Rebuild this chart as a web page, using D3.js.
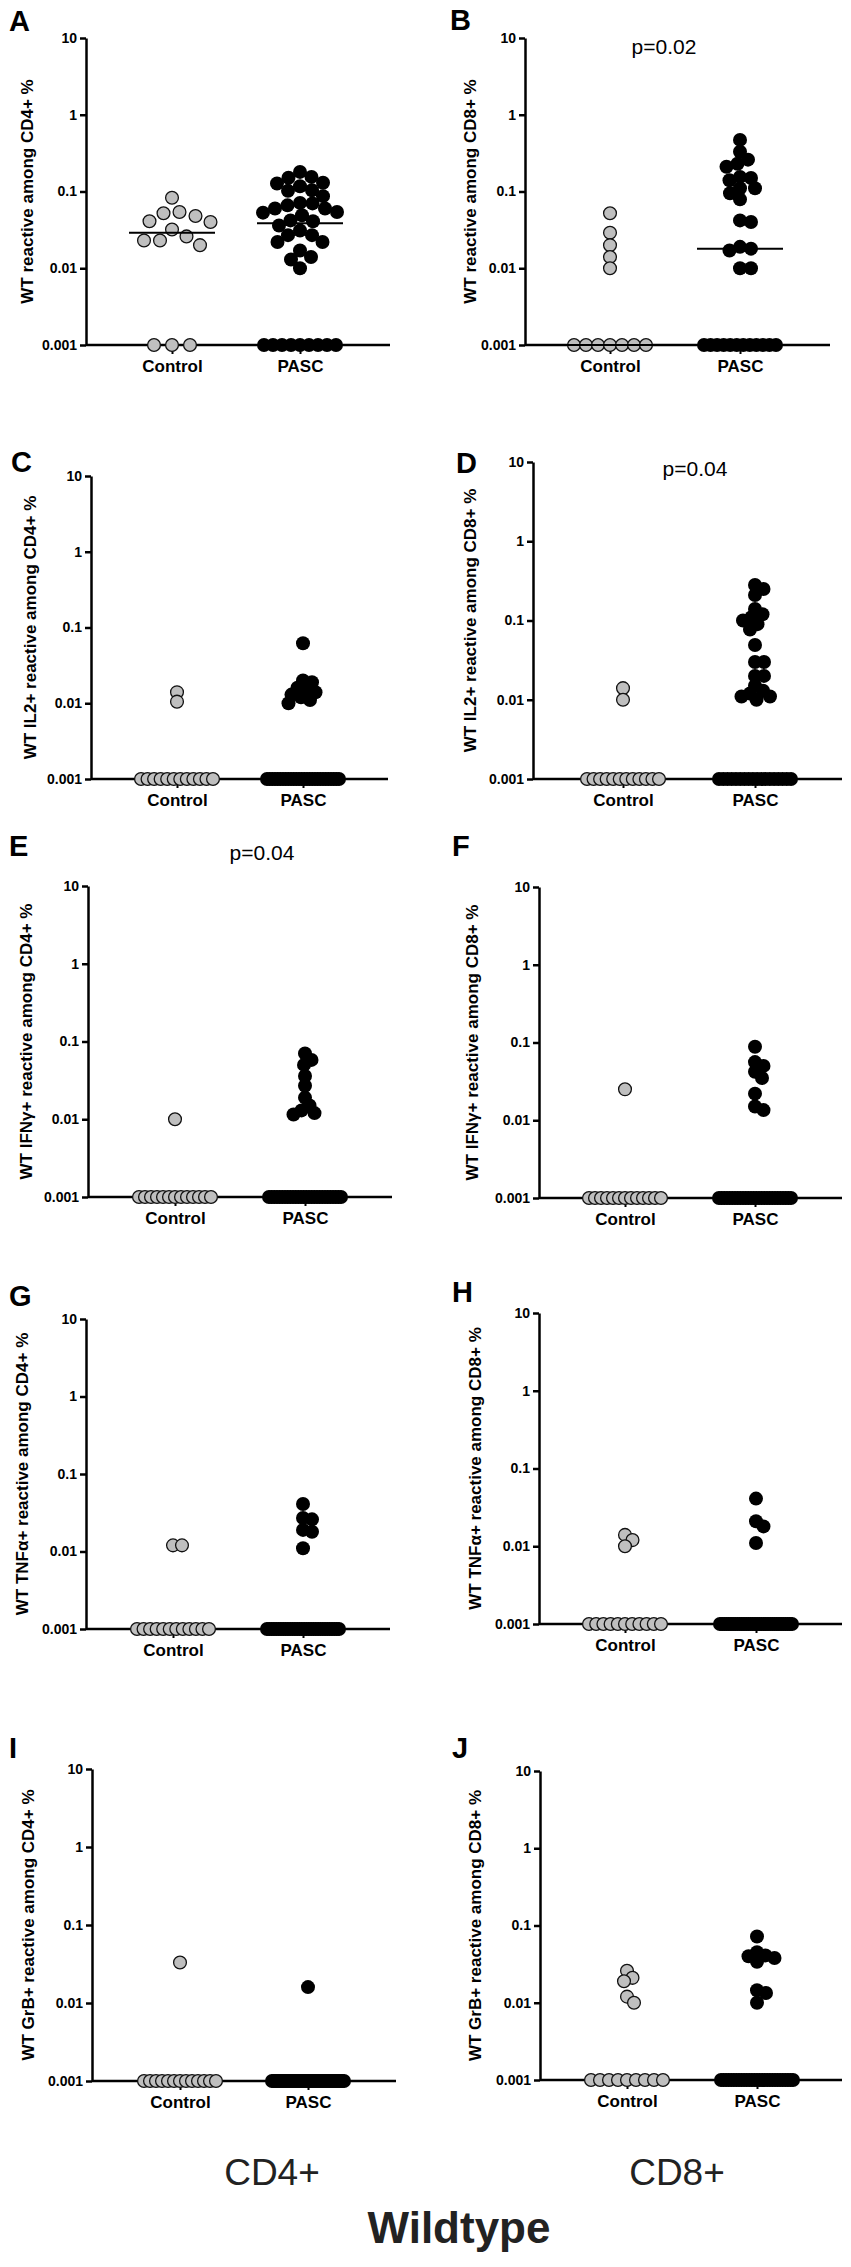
<!DOCTYPE html>
<html>
<head>
<meta charset="utf-8">
<script src="https://cdn.jsdelivr.net/npm/d3@7"></script>
<style>
  body { margin: 0; background: #fff; }
  text { font-family: "Liberation Sans", Arial, Helvetica, sans-serif; }
</style>
</head>
<body>
<svg id="fig" width="851" height="2267"></svg>
<script>
// values, % of CD4+/CD8+ cells; 0.001 = below detection (plotted on the axis)
const groups = ["Control", "PASC"];
const yTicks = [0.001, 0.01, 0.1, 1, 10];

const aControl = [0.083, 0.052, 0.054, 0.048, 0.041, 0.040, 0.032, 0.026, 0.023, 0.023, 0.020,
  0.001, 0.001, 0.001];
const aPasc = [0.180, 0.155, 0.151, 0.130, 0.127, 0.117, 0.104, 0.102, 0.087, 0.071, 0.070, 0.066,
  0.060, 0.060, 0.054, 0.053, 0.049, 0.042, 0.041, 0.036, 0.031, 0.027, 0.027, 0.022, 0.022,
  0.017, 0.014, 0.013, 0.010,
  0.001, 0.001, 0.001, 0.001, 0.001, 0.001, 0.001, 0.001, 0.001];

const bControl = [0.052, 0.029, 0.020, 0.014, 0.010,
  0.001, 0.001, 0.001, 0.001, 0.001, 0.001, 0.001];
const bPasc = [0.47, 0.33, 0.26, 0.23, 0.21, 0.155, 0.15, 0.14, 0.11, 0.11, 0.095, 0.079,
  0.042, 0.040, 0.019, 0.018, 0.017, 0.010, 0.010,
  0.001, 0.001, 0.001, 0.001, 0.001, 0.001, 0.001, 0.001, 0.001, 0.001, 0.001, 0.001];

const cControl = [0.014, 0.0105,
  0.001, 0.001, 0.001, 0.001, 0.001, 0.001, 0.001, 0.001, 0.001, 0.001, 0.001, 0.001];
const cPasc = [0.062, 0.020, 0.019, 0.016, 0.015, 0.014, 0.013, 0.012, 0.011, 0.010,
  0.001, 0.001, 0.001, 0.001, 0.001, 0.001, 0.001, 0.001, 0.001, 0.001, 0.001, 0.001, 0.001, 0.001,
  0.001, 0.001, 0.001, 0.001, 0.001, 0.001, 0.001, 0.001, 0.001, 0.001, 0.001, 0.001, 0.001, 0.001];

const dControl = [0.014, 0.010,
  0.001, 0.001, 0.001, 0.001, 0.001, 0.001, 0.001, 0.001, 0.001, 0.001, 0.001, 0.001];
const dPasc = [0.28, 0.25, 0.21, 0.14, 0.12, 0.11, 0.10, 0.09, 0.077, 0.049, 0.030, 0.030,
  0.020, 0.020, 0.015, 0.013, 0.012, 0.011, 0.011, 0.010,
  0.001, 0.001, 0.001, 0.001, 0.001, 0.001, 0.001, 0.001, 0.001, 0.001, 0.001, 0.001, 0.001, 0.001,
  0.001, 0.001, 0.001, 0.001];

const eControl = [0.010,
  0.001, 0.001, 0.001, 0.001, 0.001, 0.001, 0.001, 0.001, 0.001, 0.001, 0.001, 0.001, 0.001];
const ePasc = [0.070, 0.058, 0.050, 0.036, 0.027, 0.019, 0.015, 0.013, 0.012, 0.0115,
  0.001, 0.001, 0.001, 0.001, 0.001, 0.001, 0.001, 0.001, 0.001, 0.001, 0.001, 0.001, 0.001, 0.001,
  0.001, 0.001, 0.001, 0.001, 0.001, 0.001, 0.001, 0.001, 0.001, 0.001, 0.001, 0.001, 0.001, 0.001];

const fControl = [0.025,
  0.001, 0.001, 0.001, 0.001, 0.001, 0.001, 0.001, 0.001, 0.001, 0.001, 0.001, 0.001, 0.001];
const fPasc = [0.088, 0.056, 0.050, 0.042, 0.035, 0.022, 0.015, 0.0135,
  0.001, 0.001, 0.001, 0.001, 0.001, 0.001, 0.001, 0.001, 0.001, 0.001, 0.001, 0.001, 0.001, 0.001,
  0.001, 0.001, 0.001, 0.001, 0.001, 0.001, 0.001, 0.001, 0.001, 0.001, 0.001, 0.001, 0.001, 0.001];

const gControl = [0.012, 0.012,
  0.001, 0.001, 0.001, 0.001, 0.001, 0.001, 0.001, 0.001, 0.001, 0.001, 0.001, 0.001];
const gPasc = [0.041, 0.027, 0.026, 0.019, 0.018, 0.011,
  0.001, 0.001, 0.001, 0.001, 0.001, 0.001, 0.001, 0.001, 0.001, 0.001, 0.001, 0.001, 0.001, 0.001,
  0.001, 0.001, 0.001, 0.001, 0.001, 0.001, 0.001, 0.001, 0.001, 0.001, 0.001, 0.001, 0.001, 0.001,
  0.001, 0.001, 0.001, 0.001];

const hControl = [0.014, 0.012, 0.010,
  0.001, 0.001, 0.001, 0.001, 0.001, 0.001, 0.001, 0.001, 0.001, 0.001, 0.001];
const hPasc = [0.041, 0.021, 0.018, 0.011,
  0.001, 0.001, 0.001, 0.001, 0.001, 0.001, 0.001, 0.001, 0.001, 0.001, 0.001, 0.001, 0.001, 0.001,
  0.001, 0.001, 0.001, 0.001, 0.001, 0.001, 0.001, 0.001, 0.001, 0.001, 0.001, 0.001, 0.001, 0.001,
  0.001, 0.001, 0.001, 0.001, 0.001, 0.001];

const iControl = [0.033,
  0.001, 0.001, 0.001, 0.001, 0.001, 0.001, 0.001, 0.001, 0.001, 0.001, 0.001, 0.001, 0.001];
const iPasc = [0.016,
  0.001, 0.001, 0.001, 0.001, 0.001, 0.001, 0.001, 0.001, 0.001, 0.001, 0.001, 0.001, 0.001, 0.001,
  0.001, 0.001, 0.001, 0.001, 0.001, 0.001, 0.001, 0.001, 0.001, 0.001, 0.001, 0.001, 0.001, 0.001,
  0.001, 0.001, 0.001, 0.001, 0.001, 0.001, 0.001, 0.001, 0.001];

const jControl = [0.026, 0.021, 0.019, 0.012, 0.010,
  0.001, 0.001, 0.001, 0.001, 0.001, 0.001, 0.001, 0.001, 0.001];
const jPasc = [0.072, 0.045, 0.041, 0.040, 0.038, 0.034, 0.0145, 0.0134, 0.010,
  0.001, 0.001, 0.001, 0.001, 0.001, 0.001, 0.001, 0.001, 0.001, 0.001, 0.001, 0.001, 0.001, 0.001,
  0.001, 0.001, 0.001, 0.001, 0.001, 0.001, 0.001, 0.001, 0.001, 0.001, 0.001, 0.001, 0.001, 0.001,
  0.001];

const panels = [
  { id: "A", title: "WT reactive among CD4+ %", control: aControl, pasc: aPasc, median: true },
  { id: "B", title: "WT reactive among CD8+ %", control: bControl, pasc: bPasc, median: true, p: "p=0.02" },
  { id: "C", title: "WT IL2+ reactive among CD4+ %", control: cControl, pasc: cPasc },
  { id: "D", title: "WT IL2+ reactive among CD8+ %", control: dControl, pasc: dPasc, p: "p=0.04" },
  { id: "E", title: "WT IFNγ+ reactive among CD4+ %", control: eControl, pasc: ePasc, p: "p=0.04" },
  { id: "F", title: "WT IFNγ+ reactive among CD8+ %", control: fControl, pasc: fPasc },
  { id: "G", title: "WT TNFα+ reactive among CD4+ %", control: gControl, pasc: gPasc },
  { id: "H", title: "WT TNFα+ reactive among CD8+ %", control: hControl, pasc: hPasc },
  { id: "I", title: "WT GrB+ reactive among CD4+ %", control: iControl, pasc: iPasc },
  { id: "J", title: "WT GrB+ reactive among CD8+ %", control: jControl, pasc: jPasc }
];

// where each panel sits on the page (the panels were pasted in, so they differ a little)
// gap = [control, PASC] dodge distance of the swarm
const layout = {
  A: { ax: 86,  top: 38,   bot: 345,  cx: [172, 300], xEnd: 390, labX: 27,  letter: [9, 31],     gap: [16, 12.5] },
  B: { ax: 525, top: 38,   bot: 345,  cx: [610, 740], xEnd: 830, labX: 470, letter: [450, 30],   gap: [11, 11], pPos: [664, 54] },
  C: { ax: 91,  top: 476,  bot: 779,  cx: [177, 303], xEnd: 388, labX: 30,  letter: [11, 472],   gap: [9, 9] },
  D: { ax: 533, top: 462,  bot: 779,  cx: [623, 755], xEnd: 842, labX: 470, letter: [456, 473],  gap: [9, 9], pPos: [695, 476] },
  E: { ax: 88,  top: 886,  bot: 1197, cx: [175, 305], xEnd: 392, labX: 26,  letter: [9, 856],    gap: [9, 9], pPos: [262, 860] },
  F: { ax: 539, top: 887,  bot: 1198, cx: [625, 755], xEnd: 842, labX: 472, letter: [452, 856],  gap: [9, 9] },
  G: { ax: 86,  top: 1319, bot: 1629, cx: [173, 303], xEnd: 390, labX: 22,  letter: [9, 1306],   gap: [9, 9] },
  H: { ax: 539, top: 1313, bot: 1624, cx: [625, 756], xEnd: 842, labX: 475, letter: [452, 1302], gap: [9, 9] },
  I: { ax: 92,  top: 1769, bot: 2081, cx: [180, 308], xEnd: 396, labX: 28,  letter: [9, 1758],   gap: [9, 9] },
  J: { ax: 540, top: 1771, bot: 2080, cx: [627, 757], xEnd: 842, labX: 475, letter: [452, 1758], gap: [9, 9] }
};

const R = 7;
const svg = d3.select("#fig");

// simple beeswarm: non-detects in one row on the axis, the rest dodged sideways
function swarm(values, cx, y, gap) {
  const out = [];
  const low = values.filter(v => v <= 0.001);
  const n = low.length;
  const step = n > 1 ? Math.min(18, 72 / (n - 1)) : 0;
  low.forEach((v, i) => out.push({ v, x: cx + (i - (n - 1) / 2) * step, y: y(v) }));

  const placed = [];
  values.filter(v => v > 0.001).sort((a, b) => b - a).forEach(v => {
    const py = y(v);
    let px = cx;
    for (let k = 0; k < 200; k++) {
      const o = k * 0.5;
      const cands = o === 0 ? [cx] : [cx + o, cx - o];
      const hit = cands.find(c => placed.every(p => Math.hypot(p.x - c, p.y - py) >= gap));
      if (hit !== undefined) { px = hit; break; }
    }
    placed.push({ x: px, y: py });
    out.push({ v, x: px, y: py });
  });
  return out;
}

panels.forEach(pn => {
  const L = layout[pn.id];
  const g = svg.append("g");

  const y = d3.scaleLog().domain([0.001, 10]).range([L.bot, L.top]);
  const x = d3.scalePoint().domain(groups).range(L.cx);

  // y axis
  const yAxis = g.append("g")
    .attr("transform", `translate(${L.ax},0)`)
    .call(d3.axisLeft(y).tickValues(yTicks).tickFormat(d3.format("~g"))
      .tickSize(6).tickSizeOuter(0).tickPadding(3));
  yAxis.selectAll("path, line").attr("stroke", "#000").attr("stroke-width", 2.5);
  yAxis.selectAll("text").attr("font-size", 14).attr("font-weight", "bold").attr("fill", "#000");

  // x axis: baseline plus category ticks
  g.append("line")
    .attr("x1", L.ax).attr("x2", L.xEnd)
    .attr("y1", L.bot).attr("y2", L.bot)
    .attr("stroke", "#000").attr("stroke-width", 2.5);
  const xAxis = g.append("g")
    .attr("transform", `translate(0,${L.bot})`)
    .call(d3.axisBottom(x).tickSize(9).tickPadding(6));
  xAxis.select(".domain").remove();
  xAxis.selectAll("line").attr("stroke", "#000").attr("stroke-width", 2);
  xAxis.selectAll("text").attr("font-size", 17).attr("font-weight", "bold").attr("fill", "#000");

  // y title
  g.append("text")
    .attr("transform", `translate(${L.labX},${(L.top + L.bot) / 2}) rotate(-90)`)
    .attr("dy", "0.36em")
    .attr("text-anchor", "middle")
    .attr("font-size", 17).attr("font-weight", "bold")
    .text(pn.title);

  // panel letter
  g.append("text")
    .attr("x", L.letter[0]).attr("y", L.letter[1])
    .attr("font-size", 29).attr("font-weight", "bold")
    .text(pn.id);

  if (pn.p) {
    g.append("text")
      .attr("x", L.pPos[0]).attr("y", L.pPos[1])
      .attr("text-anchor", "middle")
      .attr("font-size", 21)
      .text(pn.p);
  }

  // points
  const ctrlPts = swarm(pn.control, x("Control"), y, L.gap[0]);
  const pascPts = swarm(pn.pasc, x("PASC"), y, L.gap[1]);

  g.append("g").selectAll("circle").data(ctrlPts).join("circle")
    .attr("cx", d => d.x).attr("cy", d => d.y).attr("r", R - 0.6)
    .attr("fill", "#bfbfbf").attr("stroke", "#111").attr("stroke-width", 1.3);

  g.append("g").selectAll("circle").data(pascPts).join("circle")
    .attr("cx", d => d.x).attr("cy", d => d.y).attr("r", R)
    .attr("fill", "#000");

  // median lines
  if (pn.median) {
    [["Control", pn.control], ["PASC", pn.pasc]].forEach(([grp, vals]) => {
      const m = d3.median(vals);
      g.append("line")
        .attr("x1", x(grp) - 43).attr("x2", x(grp) + 43)
        .attr("y1", y(m)).attr("y2", y(m))
        .attr("stroke", "#000").attr("stroke-width", 2);
    });
  }
});

// column and figure captions
svg.append("text").attr("x", 272).attr("y", 2185).attr("text-anchor", "middle")
  .attr("font-size", 37).attr("fill", "#222").text("CD4+");
svg.append("text").attr("x", 677).attr("y", 2185).attr("text-anchor", "middle")
  .attr("font-size", 37).attr("fill", "#222").text("CD8+");
svg.append("text").attr("x", 459).attr("y", 2243).attr("text-anchor", "middle")
  .attr("font-size", 44).attr("font-weight", "bold").attr("fill", "#222").text("Wildtype");
</script>
</body>
</html>
